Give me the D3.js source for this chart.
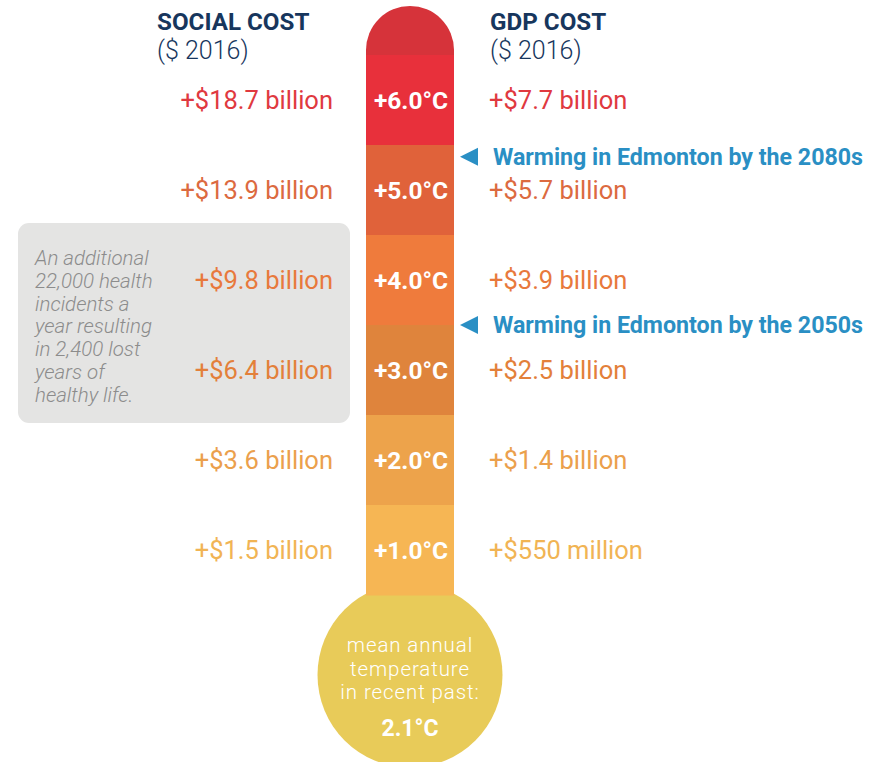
<!DOCTYPE html>
<html><head><meta charset="utf-8">
<script src="https://cdn.jsdelivr.net/npm/d3@7"></script>
<style>html,body{margin:0;padding:0;background:#fff;}svg{display:block;font-family:Roboto,"Open Sans",sans-serif;}</style>
</head><body><svg id="c" width="875" height="762"></svg>
<script>
// ---- data ----
const temps = [6, 5, 4, 3, 2, 1];
const socialCost = [18.7, 13.9, 9.8, 6.4, 3.6, 1.5];   // $ billion
const gdpCost = [7.7, 5.7, 3.9, 2.5, 1.4, 0.55];       // $ billion
const segColors = ["#e8303b", "#e0623a", "#ef7b3c", "#df843c", "#eda34b", "#f6b654"];
const textColors = ["#e0393f", "#dc6a40", "#e8793c", "#e3803a", "#eba04c", "#f1b454"];
const markers = [{t: 5.37, label: "Warming in Edmonton by the 2080s"}, {t: 3.5, label: "Warming in Edmonton by the 2050s"}];
const noteLines = ["An additional", "22,000 health", "incidents a", "year resulting", "in 2,400 lost", "years of", "healthy life."];
const bulbLines = ["mean annual", "temperature", "in recent past:"];
const baseTemp = 2.1;

const svg = d3.select("#c");
const tubeX0 = 366, tubeX1 = 454, cx = (tubeX0 + tubeX1) / 2;
const y = d3.scaleBand().domain(temps).range([55, 595]).paddingInner(0);
const yT = d3.scaleLinear().domain([6.5, 0.5]).range([55, 595]);
const fmt = v => v < 1 ? "+$" + Math.round(v * 1000) + " million" : "+$" + d3.format(".1f")(v) + " billion";
const tfmt = t => "+" + d3.format(".1f")(t) + "°C";

// gray note box
svg.append("rect").attr("x", 18).attr("y", 223).attr("width", 332).attr("height", 200).attr("rx", 11).attr("fill", "#e4e4e3");
svg.append("g").selectAll("text").data(noteLines).join("text")
  .attr("x", 35).attr("y", (d, i) => 265 + i * 22.8)
  .attr("font-size", 20.5).attr("font-style", "italic").attr("font-weight", 300).attr("fill", "#8c8c8c").text(d => d);

// bulb
svg.append("circle").attr("cx", cx).attr("cy", 675).attr("r", 92.5).attr("fill", "#e8cb59");

// top cap
const r = (tubeX1 - tubeX0) / 2;
svg.append("path").attr("fill", "#d6333a")
  .attr("d", `M${tubeX0},${y.range()[0]} L${tubeX0},${6 + r} A${r},${r} 0 0 1 ${tubeX1},${6 + r} L${tubeX1},${y.range()[0]} Z`);

// segments
svg.append("g").selectAll("rect").data(temps).join("rect")
  .attr("x", tubeX0).attr("width", tubeX1 - tubeX0)
  .attr("y", d => y(d)).attr("height", y.bandwidth() + 0.5)
  .attr("fill", (d, i) => segColors[i]);

svg.append("g").selectAll("text").data(temps).join("text")
  .attr("x", cx + 1).attr("y", d => y(d) + y.bandwidth() / 2 + 9)
  .attr("text-anchor", "middle").attr("font-size", 24.5).attr("font-weight", 700).attr("fill", "#fff")
  .text(d => tfmt(d));

// social cost labels
svg.append("g").selectAll("text").data(socialCost).join("text")
  .attr("x", 333).attr("y", (d, i) => y(temps[i]) + y.bandwidth() / 2 + 9)
  .attr("text-anchor", "end").attr("font-size", 25.5).attr("fill", (d, i) => textColors[i])
  .text(d => fmt(d));

// gdp cost labels
svg.append("g").selectAll("text").data(gdpCost).join("text")
  .attr("x", 489).attr("y", (d, i) => y(temps[i]) + y.bandwidth() / 2 + 9)
  .attr("font-size", 25.5).attr("fill", (d, i) => textColors[i])
  .text(d => fmt(d));

// markers
const mk = svg.append("g").selectAll("g").data(markers).join("g")
  .attr("transform", d => `translate(0,${yT(d.t)})`);
mk.append("path").attr("d", "M460,0 L478,-9 L478,9 Z").attr("fill", "#2a8fc4");
mk.append("text").attr("x", 493).attr("y", 8).attr("font-size", 23.2).attr("font-weight", 700).attr("fill", "#2a8fc4").text(d => d.label);

// headers
const hdr = [{x: 157, t: "SOCIAL COST"}, {x: 490, t: "GDP COST"}];
hdr.forEach(h => {
  svg.append("text").attr("x", h.x).attr("y", 30).attr("font-size", 24.2).attr("font-weight", 700).attr("fill", "#17365d").text(h.t);
  svg.append("text").attr("x", h.x).attr("y", 59).attr("font-size", 25).attr("font-weight", 300).attr("fill", "#17365d").text("($ 2016)");
});

// bulb text
svg.append("g").selectAll("text").data(bulbLines).join("text")
  .attr("x", cx).attr("y", (d, i) => 652 + i * 23.5)
  .attr("text-anchor", "middle").attr("font-size", 20.5).attr("letter-spacing", 0.9).attr("font-weight", 300).attr("fill", "#fff").text(d => d);
svg.append("text").attr("x", cx).attr("y", 736).attr("text-anchor", "middle")
  .attr("font-size", 23).attr("font-weight", 700).attr("fill", "#fff").text(d3.format(".1f")(baseTemp) + "°C");
</script></body></html>
